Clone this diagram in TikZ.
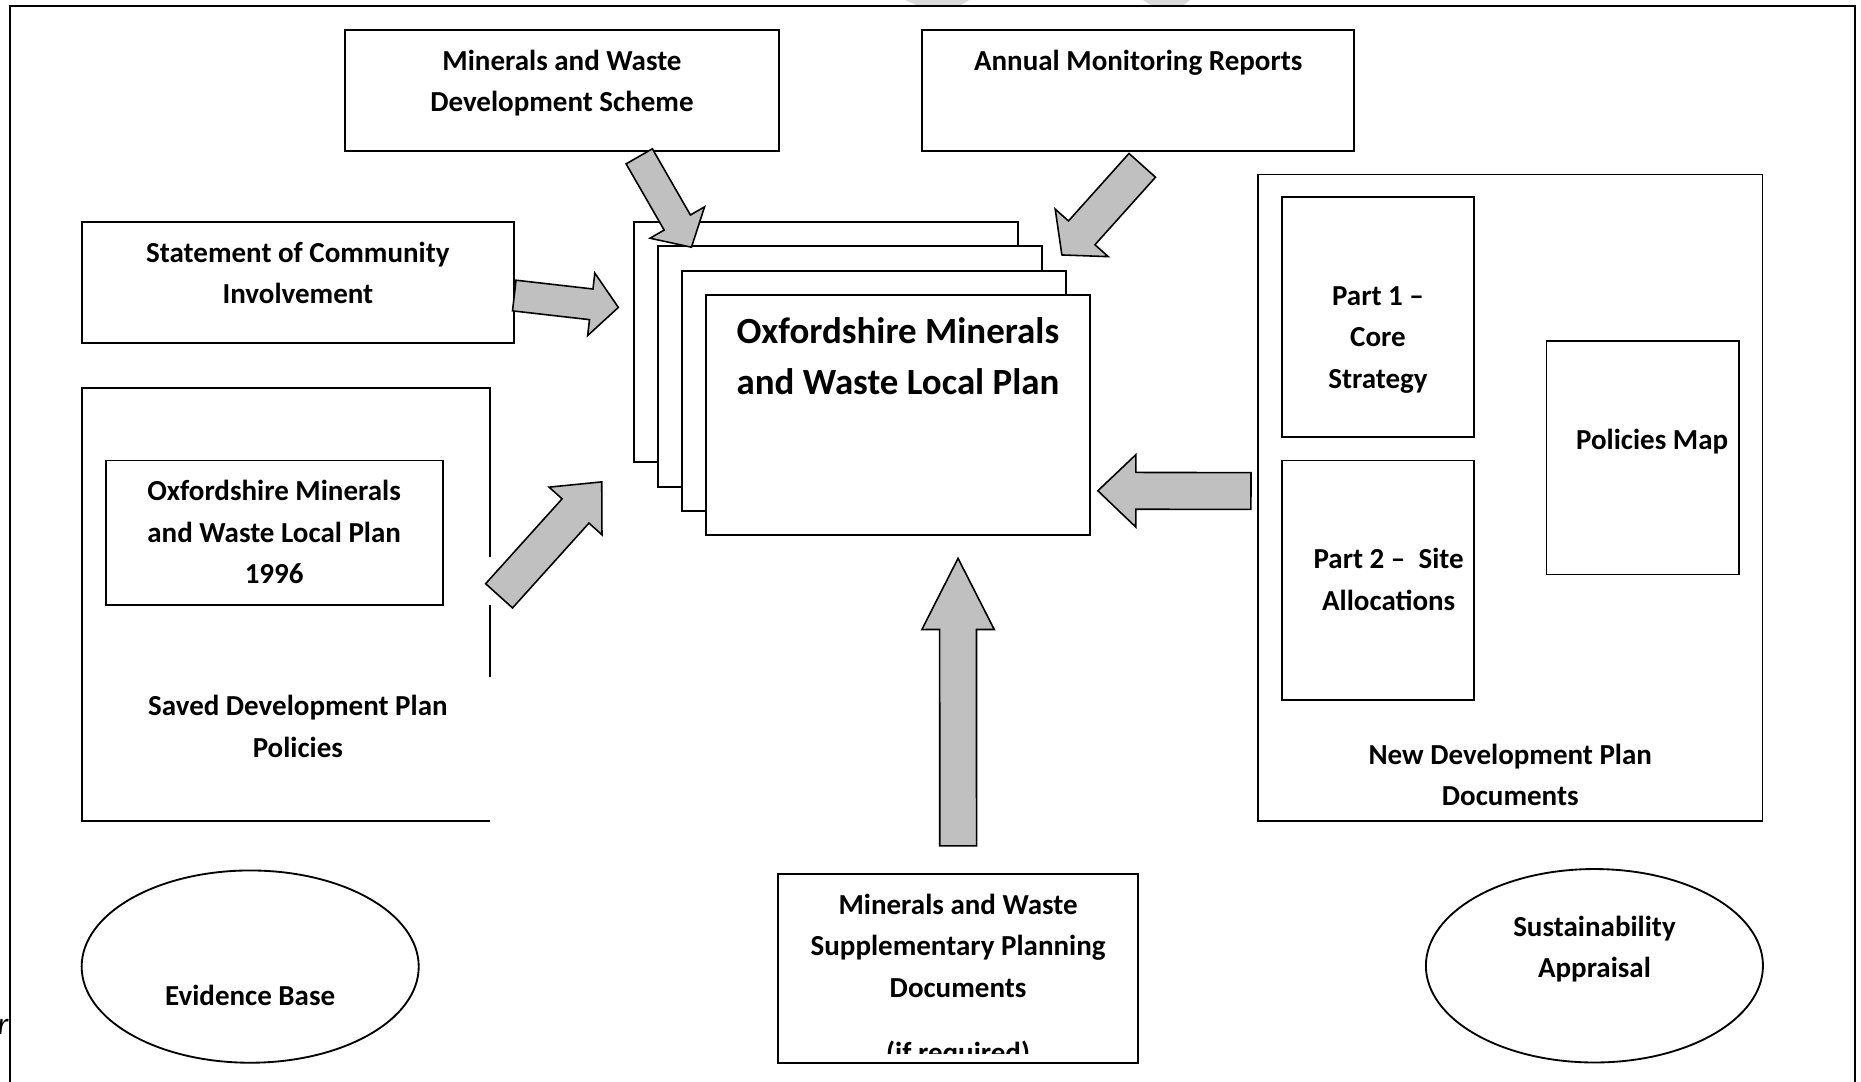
\documentclass[tikz,border=0pt]{standalone}
\usepackage{fontspec}
\setmainfont{Carlito}
\usepackage{tikz}
\usetikzlibrary{shapes.geometric, positioning, calc}
\definecolor{arrowGray}{RGB}{192, 192, 192}
\definecolor{ghostGray}{RGB}{217, 217, 217}
\newcommand{\myPx}{0.45pt}
\tikzstyle{line} = [line width=0.7pt]
\tikzstyle{basic} = [rectangle, draw=black, line width=0.7pt, fill=white, inner sep=0pt, outer sep=0pt]
\tikzstyle{page} = [basic, minimum width=324*\myPx, minimum height=202.5*\myPx, anchor=north west]
\tikzstyle{oval} = [ellipse, draw=black, line width=0.7pt, inner sep=0pt, minimum width=284*\myPx, minimum height=162*\myPx]
\tikzstyle{words} = [font=\bfseries\fontsize{11pt}{15.75pt}\selectfont, align=center, inner sep=0pt, anchor=base]
\tikzstyle{bigwords} = [words, font=\bfseries\fontsize{14pt}{19.35pt}\selectfont]
\tikzstyle{blockarrow} = [draw=black, line width=0.6pt, fill=arrowGray, line join=miter]
% #1 tail, #2 tip, #3 shaft width, #4 head width, #5 head length
\newcommand{\blockArrow}[5]{%
  \coordinate (#1Neck) at ($(#2)!#5*\myPx!(#1)$);
  \draw [blockarrow] ($(#1)!#3/2*\myPx!90:(#2)$) -- ($(#1Neck)!#3/2*\myPx!90:(#2)$)
    -- ($(#1Neck)!#4/2*\myPx!90:(#2)$) -- (#2)
    -- ($(#1Neck)!#4/2*\myPx!-90:(#2)$) -- ($(#1Neck)!#3/2*\myPx!-90:(#2)$)
    -- ($(#1)!#3/2*\myPx!-90:(#2)$) -- cycle;
}

\begin{document}
\begin{tikzpicture}[x=0.45pt, y=-0.45pt]
\useasboundingbox (0,0) rectangle (1568,911);

% page frame and bits of the watermark above it
\fill [ghostGray] (758,-2) -- (820,-2) -- (809,4.5) -- (773,4.5) -- cycle;
\fill [ghostGray] (960,-2) -- (1005,-2) -- (997,4.5) -- (970,4.5) -- cycle;
\draw [line] (8.4,915) -- (8.4,4.8) -- (1562.8,4.8) -- (1562.8,915);
\node (cut) [anchor=base east, inner sep=0pt, font=\itshape\fontsize{12pt}{14pt}\selectfont] at (7.5,872) {r};

% base anchor = baseline of the last line
\node (mwds) [basic, minimum width=365*\myPx, minimum height=102*\myPx, anchor=north west] at (291,25) {};
\node (mwdsText) [words, yshift=-69*\myPx] at (mwds.north) {Minerals and Waste\\Development Scheme};

\node (amr) [basic, minimum width=364*\myPx, minimum height=102*\myPx, anchor=north west] at (777,25) {};
\node (amrText) [words, yshift=-34*\myPx] at (amr.north) {Annual Monitoring Reports};

\node (sci) [basic, minimum width=364*\myPx, minimum height=102*\myPx, anchor=north west] at (69,187) {};
\node (sciText) [words, yshift=-69*\myPx] at (sci.north) {Statement of Community\\Involvement};

\node (saved) [basic, draw=none, minimum width=344*\myPx, minimum height=365*\myPx, anchor=north west] at (69,327) {};
\draw [line] ($(saved.north east)+(0,142)$) -- (saved.north east) -- (saved.north west) -- (saved.south west) -- (saved.south east);
\draw [line] ($(saved.north east)+(0,183)$) -- ($(saved.north east)+(0,243)$);
\node (savedText) [words, xshift=10*\myPx, yshift=-311*\myPx] at (saved.north) {Saved Development Plan\\Policies};

\node (oldPlan) [basic, minimum width=284*\myPx, minimum height=122*\myPx, anchor=north west] at (89,388) {};
\node (oldPlanText) [words, yshift=-104*\myPx] at (oldPlan.north) {Oxfordshire Minerals\\and Waste Local Plan\\1996};

\node (page1) [page] at (534,187) {};
\node (page2) [page, xshift=20.2*\myPx, yshift=-20.5*\myPx] at (page1.north west) {};
\node (page3) [page, xshift=20.2*\myPx, yshift=-20.5*\myPx] at (page2.north west) {};
\node (page4) [page, xshift=20.2*\myPx, yshift=-20.5*\myPx] at (page3.north west) {};
\node (titleText) [bigwords, yshift=-84*\myPx] at (page4.north) {Oxfordshire Minerals\\and Waste Local Plan};

\node (ndpd) [basic, minimum width=425*\myPx, minimum height=545*\myPx, anchor=north west] at (1060,147) {};
\node (ndpdText) [words, yshift=-532*\myPx] at (ndpd.north) {New Development Plan\\Documents};
\node (part1) [basic, minimum width=162*\myPx, minimum height=202*\myPx, anchor=north west] at (1080,166) {};
\node (part1Text) [words, yshift=-161*\myPx] at (part1.north) {Part 1 –\\Core\\Strategy};
\node (part2) [basic, minimum width=162*\myPx, minimum height=202*\myPx, anchor=north west] at (1080,388) {};
\node (part2Text) [words, xshift=9*\myPx, yshift=-126*\myPx] at (part2.north) {Part 2 –\ \ Site\\Allocations};
\node (map) [basic, minimum width=162*\myPx, minimum height=197*\myPx, anchor=north west] at (1303,287) {};
\node (mapText) [words, xshift=8*\myPx, yshift=-92*\myPx] at (map.north) {Policies Map};

\node (spd) [basic, minimum width=303.5*\myPx, minimum height=159.5*\myPx, anchor=north west] at (655.5,736.3) {};
\begin{scope}
\clip (spd.north west) rectangle ($(spd.south east)+(0,-8)$);
\node (spdText) [words, yshift=-158.7*\myPx] at (spd.north) {Minerals and Waste\\Supplementary Planning\\Documents\\[8.8pt](if required)};
\end{scope}

\node (evidence) [oval] at (210.8,814.4) {};
\node (evidenceText) [words, yshift=-32.6*\myPx] at (evidence.center) {Evidence Base};
\node (sus) [oval, minimum height=163*\myPx] at (1343.4,813.7) {};
\node (susText) [words, yshift=-10.3*\myPx] at (sus.center) {Sustainability\\Appraisal};

% block arrows into the plan
\coordinate (mwdsTail) at (538.6,131.7);
\coordinate (mwdsTip) at (582.6,208.3);
\coordinate (amrTail) at (962.4,139.3);
\coordinate (amrTip) at (894.7,214.8);
\coordinate (sciTail) at (433.3,249);
\coordinate (sciTip) at (521,259);
\coordinate (oldTail) at (420.5,502);
\coordinate (oldTip) at (507,406);
\coordinate (ndpdTail) at (1054,413.7);
\coordinate (ndpdTip) at (925,413.5);
\coordinate (spdTail) at (807.3,712.7);
\coordinate (spdTip) at (807.2,470.4);
\blockArrow{mwdsTail}{mwdsTip}{25.5}{53}{24}
\blockArrow{amrTail}{amrTip}{30}{60}{25}
\blockArrow{sciTail}{sciTip}{26}{53}{23}
\blockArrow{oldTail}{oldTip}{30.5}{60}{33}
\blockArrow{ndpdTail}{ndpdTip}{31}{61}{32}
\blockArrow{spdTail}{spdTip}{31}{61}{60}

\end{tikzpicture}
\end{document}
